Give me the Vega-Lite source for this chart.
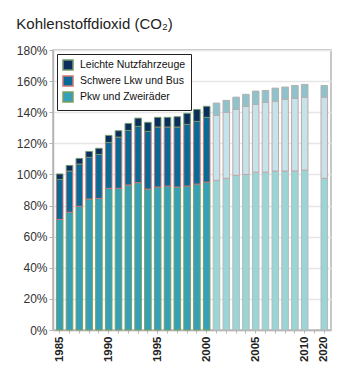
{
  "$schema": "https://vega.github.io/schema/vega-lite/v6.json",
  "width": 278,
  "height": 280,
  "padding": {"left": 16, "top": 17, "right": 10, "bottom": 10},
  "background": "white",
  "title": {"text": "Kohlenstoffdioxid (CO₂)", "anchor": "start", "frame": "bounds", "fontSize": 15, "fontWeight": "normal", "font": "Liberation Sans", "color": "#222", "offset": 12},
  "config": {"view": {"stroke": "#b5b5b5", "strokeWidth": 1.5}, "font": "Liberation Sans"},
  "data": {"values": [
    {"year":"1985","cat":"Pkw und Zweiräder","o":1,"v":71.1},{"year":"1985","cat":"Schwere Lkw und Bus","o":2,"v":25.7},{"year":"1985","cat":"Leichte Nutzfahrzeuge","o":3,"v":3.5},
    {"year":"1986","cat":"Pkw und Zweiräder","o":1,"v":75.7},{"year":"1986","cat":"Schwere Lkw und Bus","o":2,"v":26.5},{"year":"1986","cat":"Leichte Nutzfahrzeuge","o":3,"v":3.6},
    {"year":"1987","cat":"Pkw und Zweiräder","o":1,"v":79.5},{"year":"1987","cat":"Schwere Lkw und Bus","o":2,"v":27.2},{"year":"1987","cat":"Leichte Nutzfahrzeuge","o":3,"v":3.6},
    {"year":"1988","cat":"Pkw und Zweiräder","o":1,"v":84.2},{"year":"1988","cat":"Schwere Lkw und Bus","o":2,"v":26.8},{"year":"1988","cat":"Leichte Nutzfahrzeuge","o":3,"v":3.8},
    {"year":"1989","cat":"Pkw und Zweiräder","o":1,"v":84.6},{"year":"1989","cat":"Schwere Lkw und Bus","o":2,"v":28.3},{"year":"1989","cat":"Leichte Nutzfahrzeuge","o":3,"v":3.9},
    {"year":"1990","cat":"Pkw und Zweiräder","o":1,"v":91.1},{"year":"1990","cat":"Schwere Lkw und Bus","o":2,"v":29.5},{"year":"1990","cat":"Leichte Nutzfahrzeuge","o":3,"v":4.5},
    {"year":"1991","cat":"Pkw und Zweiräder","o":1,"v":91.1},{"year":"1991","cat":"Schwere Lkw und Bus","o":2,"v":32.9},{"year":"1991","cat":"Leichte Nutzfahrzeuge","o":3,"v":4.1},
    {"year":"1992","cat":"Pkw und Zweiräder","o":1,"v":93.2},{"year":"1992","cat":"Schwere Lkw und Bus","o":2,"v":35.1},{"year":"1992","cat":"Leichte Nutzfahrzeuge","o":3,"v":4.5},
    {"year":"1993","cat":"Pkw und Zweiräder","o":1,"v":94.7},{"year":"1993","cat":"Schwere Lkw und Bus","o":2,"v":36.2},{"year":"1993","cat":"Leichte Nutzfahrzeuge","o":3,"v":5.3},
    {"year":"1994","cat":"Pkw und Zweiräder","o":1,"v":90.6},{"year":"1994","cat":"Schwere Lkw und Bus","o":2,"v":37.1},{"year":"1994","cat":"Leichte Nutzfahrzeuge","o":3,"v":5.8},
    {"year":"1995","cat":"Pkw und Zweiräder","o":1,"v":91.9},{"year":"1995","cat":"Schwere Lkw und Bus","o":2,"v":38.6},{"year":"1995","cat":"Leichte Nutzfahrzeuge","o":3,"v":6.2},
    {"year":"1996","cat":"Pkw und Zweiräder","o":1,"v":92.5},{"year":"1996","cat":"Schwere Lkw und Bus","o":2,"v":38.0},{"year":"1996","cat":"Leichte Nutzfahrzeuge","o":3,"v":6.2},
    {"year":"1997","cat":"Pkw und Zweiräder","o":1,"v":91.9},{"year":"1997","cat":"Schwere Lkw und Bus","o":2,"v":38.6},{"year":"1997","cat":"Leichte Nutzfahrzeuge","o":3,"v":6.6},
    {"year":"1998","cat":"Pkw und Zweiräder","o":1,"v":92.5},{"year":"1998","cat":"Schwere Lkw und Bus","o":2,"v":39.7},{"year":"1998","cat":"Leichte Nutzfahrzeuge","o":3,"v":7.1},
    {"year":"1999","cat":"Pkw und Zweiräder","o":1,"v":93.8},{"year":"1999","cat":"Schwere Lkw und Bus","o":2,"v":40.3},{"year":"1999","cat":"Leichte Nutzfahrzeuge","o":3,"v":7.7},
    {"year":"2000","cat":"Pkw und Zweiräder","o":1,"v":95.1},{"year":"2000","cat":"Schwere Lkw und Bus","o":2,"v":41.6},{"year":"2000","cat":"Leichte Nutzfahrzeuge","o":3,"v":7.1},
    {"year":"2001","cat":"Pkw (Prognose)","o":1,"v":96.2},{"year":"2001","cat":"Lkw (Prognose)","o":2,"v":41.8},{"year":"2001","cat":"LNF (Prognose)","o":3,"v":7.9},
    {"year":"2002","cat":"Pkw (Prognose)","o":1,"v":97.5},{"year":"2002","cat":"Lkw (Prognose)","o":2,"v":42.4},{"year":"2002","cat":"LNF (Prognose)","o":3,"v":7.7},
    {"year":"2003","cat":"Pkw (Prognose)","o":1,"v":99.4},{"year":"2003","cat":"Lkw (Prognose)","o":2,"v":42.4},{"year":"2003","cat":"LNF (Prognose)","o":3,"v":7.9},
    {"year":"2004","cat":"Pkw (Prognose)","o":1,"v":100.0},{"year":"2004","cat":"Lkw (Prognose)","o":2,"v":43.8},{"year":"2004","cat":"LNF (Prognose)","o":3,"v":7.7},
    {"year":"2005","cat":"Pkw (Prognose)","o":1,"v":101.5},{"year":"2005","cat":"Lkw (Prognose)","o":2,"v":43.5},{"year":"2005","cat":"LNF (Prognose)","o":3,"v":8.6},
    {"year":"2006","cat":"Pkw (Prognose)","o":1,"v":101.5},{"year":"2006","cat":"Lkw (Prognose)","o":2,"v":44.8},{"year":"2006","cat":"LNF (Prognose)","o":3,"v":7.7},
    {"year":"2007","cat":"Pkw (Prognose)","o":1,"v":102.2},{"year":"2007","cat":"Lkw (Prognose)","o":2,"v":44.8},{"year":"2007","cat":"LNF (Prognose)","o":3,"v":8.5},
    {"year":"2008","cat":"Pkw (Prognose)","o":1,"v":102.2},{"year":"2008","cat":"Lkw (Prognose)","o":2,"v":46.1},{"year":"2008","cat":"LNF (Prognose)","o":3,"v":7.9},
    {"year":"2009","cat":"Pkw (Prognose)","o":1,"v":102.2},{"year":"2009","cat":"Lkw (Prognose)","o":2,"v":46.7},{"year":"2009","cat":"LNF (Prognose)","o":3,"v":8.3},
    {"year":"2010","cat":"Pkw (Prognose)","o":1,"v":102.8},{"year":"2010","cat":"Lkw (Prognose)","o":2,"v":46.8},{"year":"2010","cat":"LNF (Prognose)","o":3,"v":8.3},
    {"year":"2020","cat":"Pkw (Prognose)","o":1,"v":97.5},{"year":"2020","cat":"Lkw (Prognose)","o":2,"v":52.1},{"year":"2020","cat":"LNF (Prognose)","o":3,"v":7.6}
  ]},
  "mark": {"type": "bar", "strokeWidth": 1},
  "encoding": {
    "x": {"field": "year", "type": "ordinal",
      "scale": {"domain": ["1985","1986","1987","1988","1989","1990","1991","1992","1993","1994","1995","1996","1997","1998","1999","2000","2001","2002","2003","2004","2005","2006","2007","2008","2009","2010","gap","2020"], "paddingInner": 0.33, "paddingOuter": 0.35},
      "axis": {"title": null, "labelAngle": 270, "labelFontSize": 11.5, "labelFontWeight": "bold", "labelColor": "#222", "labelFont": "Liberation Sans",
        "labelExpr": "indexof(['1985','1990','1995','2000','2005','2010','2020'], datum.value) >= 0 ? datum.value : ''",
        "domainColor": "#b5b5b5", "domainWidth": 1.5, "tickColor": "#b5b5b5", "tickSize": 3, "labelPadding": 3}},
    "y": {"field": "v", "type": "quantitative", "stack": "zero",
      "scale": {"domain": [0, 180], "nice": false},
      "axis": {"title": null, "values": [0,20,40,60,80,100,120,140,160,180], "labelExpr": "datum.value + '%'", "labelFontSize": 12, "labelColor": "#333", "labelFont": "Liberation Sans",
        "gridColor": "#e6e6e6", "gridWidth": 1.5, "domainColor": "#b5b5b5", "domainWidth": 1.5, "tickColor": "#b5b5b5", "tickSize": 4, "labelPadding": 2}},
    "order": {"field": "o", "type": "quantitative"},
    "fill": {"field": "cat", "type": "nominal",
      "scale": {"domain": ["Leichte Nutzfahrzeuge","Schwere Lkw und Bus","Pkw und Zweiräder","LNF (Prognose)","Lkw (Prognose)","Pkw (Prognose)"],
        "range": ["#0b2e5f","#086b96","#35a0b8","#8fc3cc","#c4e3ea","#9ad6d6"]},
      "legend": {"title": null, "values": ["Leichte Nutzfahrzeuge","Schwere Lkw und Bus","Pkw und Zweiräder"], "orient": "top-left", "offset": 4,
        "fillColor": "white", "strokeColor": "#222", "padding": 5, "labelFontSize": 10.5, "labelColor": "#111", "labelFont": "Liberation Sans",
        "symbolType": "square", "symbolSize": 100, "symbolOpacity": 1, "rowPadding": 0, "labelOffset": 6}},
    "stroke": {"field": "cat", "type": "nominal",
      "scale": {"domain": ["Leichte Nutzfahrzeuge","Schwere Lkw und Bus","Pkw und Zweiräder","LNF (Prognose)","Lkw (Prognose)","Pkw (Prognose)"],
        "range": ["#739a6e","#d27474","#7f9f5e","#b4b0b0","#c4a6a6","#b8b8b8"]},
      "legend": {"title": null, "values": ["Leichte Nutzfahrzeuge","Schwere Lkw und Bus","Pkw und Zweiräder"], "orient": "top-left", "offset": 4,
        "fillColor": "white", "strokeColor": "#222", "padding": 5, "labelFontSize": 10.5, "labelColor": "#111", "labelFont": "Liberation Sans",
        "symbolType": "square", "symbolSize": 100, "symbolOpacity": 1, "rowPadding": 0, "labelOffset": 6}}
  }
}
